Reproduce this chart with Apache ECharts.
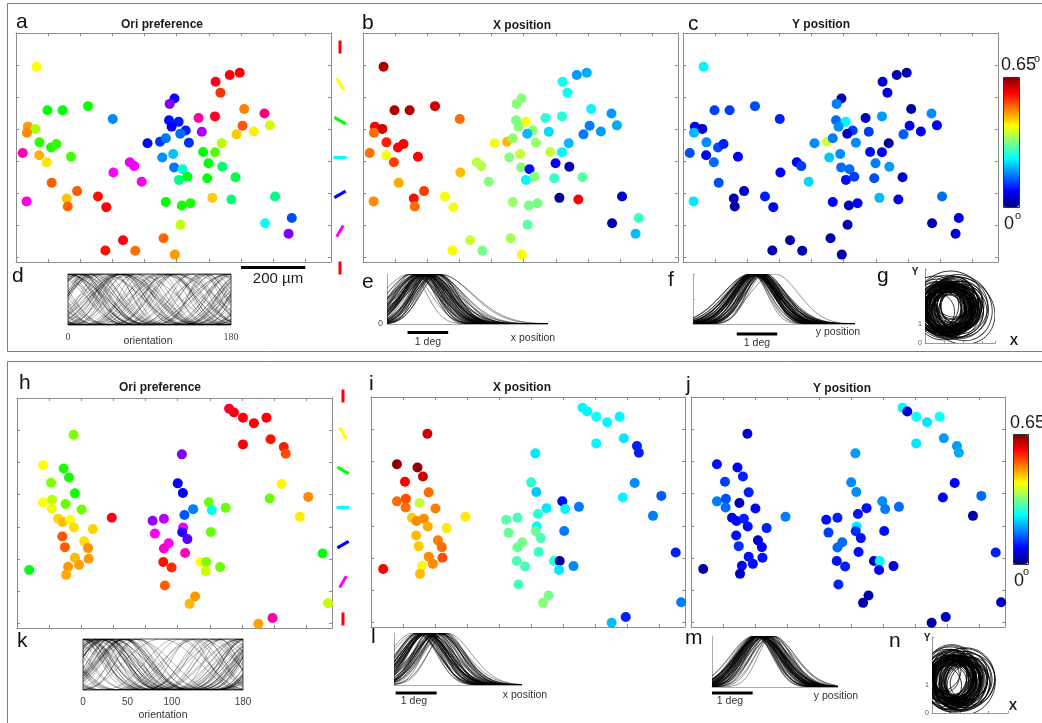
<!DOCTYPE html>
<html>
<head>
<meta charset="utf-8">
<script src="https://cdn.jsdelivr.net/npm/echarts@6/dist/echarts.min.js"></script>
<style>
  html, body { margin: 0; padding: 0; background: #ffffff; }
  #chart { width: 1042px; height: 723px; }
</style>
</head>
<body>
<div id="chart"></div>
<script>
// ---------------- cell data, first field (panels a-g) ----------------
// soma position in the imaging field, µm from the left / top edge
const topX = [64,665,696,621,636,493,478,98,145,224, 301,710,568,619,773,476,506,484,37,60,
  34,705,790,740,686,578,528,511,73,109, 126,409,448,466,538,640,21,72,96,171,
  455,489,582,619,599,642,354,368,303,391, 492,518,507,533,595,683,111,190,255,281,
  158,161,33,466,516,543,611,670,806,512, 775,858,848,333,278,371,459,494];
const topY = [105,131,124,152,186,204,221,241,241,228, 268,237,265,260,251,272,277,292,292,299,
  311,289,288,307,316,308,304,314,341,357, 346,344,339,328,342,344,374,381,403,386,
  388,377,371,372,406,417,403,415,435,464, 419,425,458,448,453,450,467,493,510,543,
  516,541,525,527,538,531,514,519,510,598, 593,577,626,646,678,679,640,691];
// preferred orientation (deg)
const topOri = [30,178,179,177,6,122,135,60,60,58, 104,15,162,176,165,118,117,121,18,40,
  16,10,35,28,24,140,116,107,55,57, 54,119,114,106,115,39,160,21,27,52,
  103,97,60,50,61,73,148,149,150,152, 106,84,75,63,62,68,11,11,2,179,
  23,12,154,60,58,57,24,75,75,37, 89,111,135,178,2,13,12,18];
// receptive-field centre, x and y (deg)
const topXPos = [0.62,0.18,0.19,0.25,0.25,0.33,0.33,0.62,0.62,0.60, 0.50,0.24,0.27,0.27,0.18,0.32,0.40,0.33,0.57,0.60,
  0.50,0.16,0.19,0.18,0.16,0.22,0.33,0.20,0.55,0.57, 0.57,0.40,0.45,0.34,0.34,0.20,0.50,0.40,0.53,0.57,
  0.33,0.37,0.37,0.24,0.08,0.03,0.36,0.36,0.45,0.33, 0.33,0.09,0.24,0.33,0.28,0.30,0.46,0.53,0.40,0.40,
  0.56,0.50,0.48,0.34,0.32,0.32,0.02,0.57,0.05,0.30, 0.03,0.28,0.20,0.37,0.41,0.32,0.35,0.41];
const topYPos = [0.24,0.03,0.03,0.05,0.07,0.03,0.16,0.12,0.12,0.13, 0.10,0.03,0.04,0.18,0.17,0.15,0.24,0.17,0.08,0.05,
  0.20,0.08,0.08,0.07,0.14,0.12,0.12,0.05,0.17,0.13, 0.10,0.17,0.38,0.16,0.17,0.02,0.13,0.08,0.15,0.08,
  0.21,0.17,0.09,0.08,0.16,0.18,0.08,0.12,0.08,0.22, 0.15,0.15,0.09,0.12,0.13,0.05,0.13,0.04,0.10,0.08,
  0.03,0.03,0.23,0.08,0.04,0.08,0.20,0.07,0.15,0.03, 0.03,0.07,0.05,0.02,0.03,0.03,0.03,0.03];
// tuning sharpness (orientation exponent) and spatial widths (deg)
const topOriPow = [2.0,1.0,3.0,1.5,4.0,1.0,2.5,3.0,1.2,2.0, 5.0,2.0,0.8,3.0,1.5,4.0,1.0,2.0,6.0,3.0,
  2.0,1.0,3.5,2.0,4.0,1.5,0.8,3.0,2.0,5.0, 1.0,2.0,3.0,1.5,4.0,1.0,3.0,2.0,2.5,5.0,
  1.0,3.0,2.0,4.0,1.5,0.7,3.0,2.0,6.0,2.0, 1.0,3.0,2.5,4.0,1.0,2.0,3.0,5.0,2.0,1.2,
  3.0,2.0,4.0,1.5,1.0,3.0,2.0,5.0,2.0,0.9, 3.0,2.0,4.0,1.0,2.5,3.0,2.0,4.5];
const topXSig = [0.45,0.60,0.40,0.70,0.50,0.35,0.55,0.80,0.45,0.60, 0.40,0.65,0.50,0.75,0.45,0.55,0.35,0.60,0.50,0.85,
  0.45,0.55,0.40,0.65,0.50,0.60,0.45,0.70,0.40,0.55, 0.50,0.65,0.45,0.60,0.30,0.55,0.75,0.45,0.50,0.60,
  0.40,0.70,0.55,0.45,0.65,0.50,0.35,0.60,0.45,0.80, 0.50,0.55,0.40,0.65,0.45,0.60,0.50,0.70,0.40,0.55,
  0.45,0.65,0.50,0.60,0.35,0.55,0.70,0.45,0.60,0.50, 0.40,0.65,0.55,0.45,0.60,0.50,0.70,0.45];
const topYSig = [0.50,0.45,0.60,0.40,0.55,0.65,0.45,0.50,0.70,0.40, 0.55,0.45,0.60,0.50,0.35,0.65,0.50,0.45,0.55,0.60,
  0.40,0.70,0.50,0.45,0.60,0.55,0.40,0.50,0.65,0.45, 0.55,0.50,0.60,0.35,0.45,0.70,0.50,0.55,0.40,0.60,
  0.45,0.50,0.65,0.55,0.40,0.60,0.50,0.45,0.70,0.55, 0.40,0.60,0.50,0.45,0.65,0.35,0.55,0.50,0.60,0.45,
  0.50,0.70,0.40,0.55,0.60,0.45,0.50,0.65,0.40,0.55, 0.60,0.45,0.50,0.70,0.40,0.55,0.50,0.60];
// receptive-field outline radii (inset units)
const topRfRx = [0.9,1.1,0.8,1.3,1.0,0.7,1.2,1.5,0.9,1.0, 0.8,1.2,1.0,1.4,0.9,1.1,0.7,1.0,1.3,1.6,
  0.9,1.0,0.8,1.2,1.0,1.1,0.9,1.3,0.8,1.0, 1.0,1.2,0.9,1.1,0.6,1.0,1.4,0.9,1.0,1.1,
  0.8,1.3,1.0,0.9,1.2,1.0,0.7,1.1,0.9,1.5, 1.0,1.0,0.8,1.2,0.9,1.1,1.0,1.3,0.8,1.0,
  0.9,1.2,1.0,1.1,0.7,1.0,1.3,0.9,1.1,1.0, 0.8,1.2,1.0,0.9,1.1,1.0,1.3,0.9];
const topRfRy = [1.1,1.2,1.0,1.4,1.1,0.9,1.3,1.5,1.0,1.2, 1.0,1.3,1.1,1.5,1.0,1.2,0.9,1.1,1.4,1.6,
  1.0,1.2,0.9,1.3,1.1,1.2,1.0,1.4,0.9,1.1, 1.1,1.3,1.0,1.2,0.8,1.1,1.5,1.0,1.1,1.2,
  0.9,1.4,1.1,1.0,1.3,1.1,0.9,1.2,1.0,1.6, 1.1,1.1,0.9,1.3,1.0,1.2,1.1,1.4,0.9,1.1,
  1.0,1.3,1.1,1.2,0.9,1.1,1.4,1.0,1.2,1.1, 0.9,1.3,1.1,1.0,1.2,1.1,1.4,1.0];

// ---------------- cell data, second field (panels h-n) ----------------
const botX = [176,81,145,162,106,180,81,109,108,151, 201,128,142,165,177,236,141,149,209,221,
  180,223,193,159,153,38,295,660,675,703, 737,776,703,789,830,836,513,500,516,548,
  521,597,606,649,422,457,429,517,514,530, 472,457,523,603,455,481,460,571,589,587,
  632,554,537,751,795,823,786,906,880,951, 968];
const botY = [114,209,219,247,263,296,324,316,343,329, 346,375,385,378,402,407,430,463,445,466,
  496,499,518,524,549,534,372,33,45,61, 78,61,144,128,152,173,175,265,295,345,
  363,324,348,341,381,375,421,402,417,438, 451,467,481,416,509,526,582,509,509,537,
  525,616,639,701,683,267,312,307,369,483, 637];
const botOri = [45,30,57,58,45,58,30,38,32,48, 47,25,22,30,26,25,10,11,26,17,
  22,18,19,18,20,62,177,175,178,178, 179,179,179,2,3,9,135,121,120,105,
  110,47,88,47,137,142,150,148,125,130, 152,155,158,48,2,5,11,30,45,36,
  47,18,22,19,160,29,48,16,28,62, 37];
const botXPos = [0.60,0.64,0.64,0.60,0.57,0.50,0.50,0.52,0.50,0.37, 0.49,0.44,0.48,0.48,0.46,0.42,0.45,0.44,0.49,0.50,
  0.48,0.52,0.48,0.41,0.45,0.57,0.42,0.24,0.24,0.25, 0.24,0.24,0.24,0.23,0.10,0.10,0.23,0.27,0.21,0.23,
  0.27,0.09,0.24,0.16,0.30,0.29,0.31,0.24,0.31,0.29, 0.32,0.31,0.28,0.16,0.29,0.29,0.29,0.27,0.02,0.23,
  0.17,0.32,0.33,0.20,0.10,0.17,0.24,0.14,0.16,0.10, 0.16];
const botYPos = [0.05,0.09,0.08,0.10,0.12,0.10,0.16,0.13,0.15,0.03, 0.08,0.08,0.08,0.10,0.09,0.10,0.09,0.11,0.05,0.08,
  0.09,0.09,0.09,0.08,0.05,0.03,0.16,0.24,0.05,0.25, 0.23,0.25,0.23,0.18,0.18,0.19,0.18,0.17,0.17,0.09,
  0.09,0.17,0.16,0.15,0.09,0.10,0.12,0.23,0.11,0.09, 0.15,0.15,0.09,0.09,0.09,0.10,0.10,0.04,0.24,0.08,
  0.07,0.03,0.03,0.02,0.04,0.08,0.08,0.15,0.03,0.10, 0.04];
const botOriPow = [2.0,3.0,1.5,4.0,2.0,1.0,3.0,2.5,1.2,5.0, 2.0,3.0,1.0,4.0,2.0,1.5,3.0,6.0,2.0,1.0,
  3.0,2.0,4.0,1.5,2.5,3.0,1.0,2.0,3.0,1.5, 4.0,2.0,1.0,3.0,2.0,1.2,3.0,2.0,4.0,1.5,
  2.0,3.0,1.0,2.5,4.0,2.0,1.5,3.0,2.0,1.0, 3.0,5.0,2.0,1.5,3.0,2.0,4.0,1.0,2.5,3.0,
  2.0,1.5,3.0,2.0,1.0,4.0,2.0,3.0,1.5,2.0, 3.0];
const botXSig = [0.50,0.45,0.60,0.40,0.55,0.65,0.45,0.50,0.60,0.40, 0.55,0.45,0.50,0.60,0.35,0.55,0.50,0.45,0.55,0.60,
  0.40,0.50,0.55,0.45,0.60,0.50,0.40,0.55,0.60,0.45, 0.50,0.55,0.60,0.40,0.45,0.65,0.50,0.55,0.40,0.60,
  0.45,0.50,0.55,0.60,0.40,0.50,0.55,0.45,0.60,0.50, 0.40,0.55,0.50,0.45,0.65,0.35,0.55,0.50,0.60,0.45,
  0.50,0.60,0.40,0.55,0.50,0.45,0.55,0.60,0.40,0.50, 0.55];
const botYSig = [0.45,0.55,0.50,0.60,0.40,0.50,0.55,0.45,0.60,0.50, 0.40,0.55,0.60,0.45,0.50,0.55,0.35,0.60,0.50,0.45,
  0.55,0.60,0.40,0.50,0.55,0.45,0.60,0.50,0.40,0.55, 0.50,0.45,0.60,0.55,0.40,0.50,0.65,0.45,0.55,0.50,
  0.60,0.40,0.50,0.55,0.45,0.60,0.50,0.40,0.55,0.60, 0.45,0.50,0.55,0.40,0.60,0.50,0.45,0.55,0.35,0.60,
  0.50,0.45,0.55,0.60,0.40,0.50,0.55,0.45,0.60,0.50, 0.45];
const botRfRx = [0.5,0.6,0.45,0.7,0.55,0.4,0.65,0.8,0.5,0.6, 0.45,0.7,0.55,0.75,0.5,0.6,0.4,0.55,0.7,0.85,
  0.5,0.6,0.45,0.65,0.55,0.6,0.5,0.7,0.45,0.55, 0.55,0.65,0.5,0.6,0.35,0.55,0.75,0.5,0.55,0.6,
  0.45,0.7,0.55,0.5,0.65,0.55,0.4,0.6,0.5,0.8, 0.55,0.55,0.45,0.65,0.5,0.6,0.55,0.7,0.45,0.55,
  0.5,0.65,0.55,0.6,0.4,0.55,0.7,0.5,0.6,0.55, 0.45];
const botRfRy = [0.6,0.7,0.55,0.8,0.65,0.5,0.75,0.9,0.6,0.7, 0.55,0.8,0.65,0.85,0.6,0.7,0.5,0.65,0.8,0.95,
  0.6,0.7,0.55,0.75,0.65,0.7,0.6,0.8,0.55,0.65, 0.65,0.75,0.6,0.7,0.45,0.65,0.85,0.6,0.65,0.7,
  0.55,0.8,0.65,0.6,0.75,0.65,0.5,0.7,0.6,0.9, 0.65,0.65,0.55,0.75,0.6,0.7,0.65,0.8,0.55,0.65,
  0.6,0.75,0.65,0.7,0.5,0.65,0.8,0.6,0.7,0.65, 0.55];

// orientation key, scale bars
const oriKeyTicks = [0, 30, 60, 90, 120, 150, 180];
const scaleBarUm = [700, 900];
const degBarE = [0.51, 1.52];
const degBarF = [1.08, 2.08];
const degBarL = [0.04, 1.04];
const degBarM = [0.0, 1.0];
const colourRange = [0, 0.65];

// ---------------- styling ----------------
const FONT = 'Liberation Sans, Arial, Helvetica, sans-serif';
const AXIS_GRAY = '#8c8c8c';
const HSV = ['#ff0000', '#ffff00', '#00ff00', '#00ffff', '#0000ff', '#ff00ff', '#ff0000'];
const JET = ['#000080', '#0000ff', '#0080ff', '#00ffff', '#80ff80', '#ffff00', '#ff8000', '#ff0000', '#800000'];
const FIELD_W = 980, FIELD_H = 714;

const grids = [], xAxes = [], yAxes = [], series = [], visualMaps = [], graphics = [];

function addGrid(l, t, w, h, extra) {
  grids.push(Object.assign({ left: l, top: t, width: w, height: h, outerBoundsMode: 'none', containLabel: false }, extra || {}));
  return grids.length - 1;
}
function addAxes(gi, xo, yo) {
  const xi = xAxes.length;
  xAxes.push(Object.assign({ gridIndex: gi, type: 'value', splitLine: { show: false } }, xo));
  const yi = yAxes.length;
  yAxes.push(Object.assign({ gridIndex: gi, type: 'value', splitLine: { show: false } }, yo));
  return { xi, yi };
}

// map panel: boxed field with inward ticks every 100 µm
function mapPanel(l, t, w, h) {
  const gi = addGrid(l, t, w, h);
  const common = {
    axisLabel: { show: false }, splitLine: { show: false },
    axisLine: { show: true, onZero: false, lineStyle: { color: AXIS_GRAY, width: 1 } },
    axisTick: { show: true, inside: true, length: 3, lineStyle: { color: AXIS_GRAY } }
  };
  const xi = xAxes.length;
  xAxes.push(Object.assign({ gridIndex: gi, type: 'value', min: 0, max: FIELD_W, interval: 100, position: 'bottom' }, common));
  xAxes.push(Object.assign({ gridIndex: gi, type: 'value', min: 0, max: FIELD_W, interval: 100, position: 'top' }, common));
  const yi = yAxes.length;
  yAxes.push(Object.assign({ gridIndex: gi, type: 'value', min: 0, max: FIELD_H, interval: 100, inverse: true, position: 'left' }, common));
  yAxes.push(Object.assign({ gridIndex: gi, type: 'value', min: 0, max: FIELD_H, interval: 100, inverse: true, position: 'right' }, common));
  return { xi, yi };
}

function cellScatter(ax, xs, ys, vals) {
  series.push({
    type: 'scatter', xAxisIndex: ax.xi, yAxisIndex: ax.yi, clip: false,
    data: xs.map((x, i) => [x, ys[i], vals[i]]),
    symbolSize: 10, itemStyle: { opacity: 1 }, silent: true, animation: false, z: 3
  });
  return series.length - 1;
}

function colourMap(sIdx, dim, min, max, colors, extra) {
  visualMaps.push(Object.assign({
    type: 'continuous', seriesIndex: sIdx, dimension: dim, min: min, max: max,
    inRange: { color: colors }, show: false
  }, extra || {}));
}

// short oriented bars showing the orientation colour code
function oriKey(l, t, w, h) {
  const gi = addGrid(l, t, w, h);
  const ax = addAxes(gi, { min: 0, max: 1, show: false }, { min: 0, max: 180, inverse: true, show: false });
  series.push({
    type: 'custom', xAxisIndex: ax.xi, yAxisIndex: ax.yi, silent: true, animation: false,
    data: oriKeyTicks.map(o => [0.5, o]),
    renderItem(params, api) {
      const o = api.value(1);
      const c = api.coord([0.5, o]);
      const r = o * Math.PI / 180, L = 6.5;
      const dx = Math.sin(r) * L, dy = Math.cos(r) * L;
      return { type: 'line', shape: { x1: c[0] - dx, y1: c[1] - dy, x2: c[0] + dx, y2: c[1] + dy },
               style: { stroke: api.visual('color'), lineWidth: 3 } };
    }
  });
  return series.length - 1;
}

// tuning-curve families
const oriTuning = (x, c, p) => Math.pow((1 + Math.cos(2 * (x - c) * Math.PI / 180)) / 2, p);
const gaussTuning = (x, c, s) => Math.exp(-(x - c) * (x - c) / (2 * s * s));

function curves(ax, centres, widths, shape, xMax, step, stroke) {
  series.push({
    type: 'custom', xAxisIndex: ax.xi, yAxisIndex: ax.yi, silent: true, animation: false, clip: true,
    data: centres.map((c, i) => [c, widths[i]]),
    renderItem(params, api) {
      const c = api.value(0), w = api.value(1);
      const pts = [];
      for (let x = 0; x <= xMax + 1e-9; x += step) pts.push(api.coord([x, shape(x, c, w)]));
      return { type: 'polyline', shape: { points: pts },
               style: { stroke: stroke, lineWidth: 0.7, fill: 'none' } };
    }
  });
}

// receptive-field outlines, tilted along each cell's preferred orientation
function rfLoops(ax, cx, cy, rx, ry, tilt) {
  series.push({
    type: 'custom', xAxisIndex: ax.xi, yAxisIndex: ax.yi, silent: true, animation: false, clip: true,
    data: cx.map((c, i) => [c, cy[i], rx[i], ry[i], tilt[i]]),
    renderItem(params, api) {
      const c = api.coord([api.value(0), api.value(1)]);
      const s = api.size([api.value(2), api.value(3)]);
      return { type: 'ellipse', x: c[0], y: c[1], rotation: -api.value(4) * Math.PI / 180,
               shape: { cx: 0, cy: 0, rx: s[0], ry: s[1] },
               style: { stroke: 'rgba(0,0,0,0.8)', lineWidth: 0.9, fill: 'none' } };
    }
  });
}

function scaleBar(ax, ends, yVal) {
  series.push({
    type: 'line', xAxisIndex: ax.xi, yAxisIndex: ax.yi, clip: false, silent: true, animation: false,
    symbol: 'none', data: [[ends[0], yVal], [ends[1], yVal]],
    lineStyle: { color: '#000', width: 3 }
  });
}

// inset axis styles
const boxAxis = (extra) => Object.assign({ axisLine: { show: false }, axisTick: { show: false }, axisLabel: { show: false } }, extra);
const lAxis = (extra) => Object.assign({
  axisLine: { show: true, onZero: false, lineStyle: { color: '#aaaaaa', width: 1 } },
  axisTick: { show: false }, axisLabel: { show: false }
}, extra);

function text(x, y, str, size, extra) {
  graphics.push({
    type: 'text', x: x, y: y, silent: true, z: 10,
    style: Object.assign({ text: str, fontSize: size, fontFamily: FONT, fill: '#1a1a1a',
      align: 'left', textAlign: 'left', verticalAlign: 'middle', textVerticalAlign: 'middle' }, extra || {})
  });
}
const centred = { align: 'center', textAlign: 'center' };
const boldC = { align: 'center', textAlign: 'center', fontWeight: 'bold' };

// ---------------- first field ----------------
const axA = mapPanel(16, 33, 315, 229);
const axB = mapPanel(363, 33, 315, 229);
const axC = mapPanel(683, 33, 315, 229);
const sA = cellScatter(axA, topX, topY, topOri);
const sB = cellScatter(axB, topX, topY, topXPos);
const sC = cellScatter(axC, topX, topY, topYPos);
colourMap(sA, 2, 0, 180, HSV);
colourMap(sB, 2, colourRange[0], colourRange[1], JET);
colourMap(sC, 2, colourRange[0], colourRange[1], JET, {
  show: true, left: 1003, top: 77, itemWidth: 16, itemHeight: 130, padding: 0,
  calculable: false, hoverLink: false, text: null, orient: 'vertical'
});
scaleBar(axA, scaleBarUm, 731);

// ---------------- second field ----------------
const axH = mapPanel(17, 398, 315, 230);
const axI = mapPanel(371, 397, 314, 230);
const axJ = mapPanel(691, 397, 314, 230);
const sH = cellScatter(axH, botX, botY, botOri);
const sI = cellScatter(axI, botX, botY, botXPos);
const sJ = cellScatter(axJ, botX, botY, botYPos);
colourMap(sH, 2, 0, 180, HSV);
colourMap(sI, 2, colourRange[0], colourRange[1], JET);
colourMap(sJ, 2, colourRange[0], colourRange[1], JET, {
  show: true, left: 1013, top: 434, itemWidth: 15, itemHeight: 130, padding: 0,
  calculable: false, hoverLink: false, text: null, orient: 'vertical'
});

// orientation keys
const k1 = oriKey(333, 47, 14, 221);
const k2 = oriKey(336, 396, 14, 223);
colourMap([k1, k2], 1, 0, 180, HSV);

// ---------------- tuning-curve insets ----------------
const boxGrid = { show: true, borderColor: '#4d4d4d', borderWidth: 1, backgroundColor: 'transparent' };
const ORI_STROKE = 'rgba(0,0,0,0.42)';
const POS_STROKE = 'rgba(0,0,0,0.6)';
// d
const gD = addGrid(68, 274, 163, 51, boxGrid);
const axD = addAxes(gD,
  boxAxis({ min: 0, max: 180, interval: 10, axisLabel: { show: true, margin: 7, fontSize: 10, color: '#444',
    fontFamily: 'Liberation Serif, Times New Roman, serif', formatter: v => (v === 0 || v === 180) ? String(v) : '' } }),
  boxAxis({ min: 0, max: 1 }));
curves(axD, topOri, topOriPow, oriTuning, 180, 2, ORI_STROKE);
// e
const gE = addGrid(387, 274, 161, 50);
const axE = addAxes(gE, lAxis({ min: 0, max: 4 }),
  lAxis({ min: 0, max: 1, interval: 1, axisLabel: { show: true, margin: 4, fontSize: 9, color: '#555', fontFamily: FONT,
    formatter: v => v === 0 ? '0' : '' } }));
curves(axE, topXPos.map(v => 0.55 + v * 1.2), topXSig, gaussTuning, 4, 0.04, POS_STROKE);
scaleBar(axE, degBarE, -0.17);
// f
const gF = addGrid(693, 274, 162, 50);
const axF = addAxes(gF, lAxis({ min: 0, max: 4 }),
  lAxis({ min: 0, max: 1, interval: 0.5, axisTick: { show: true, inside: true, length: 2, lineStyle: { color: '#aaa' } } }));
curves(axF, topYPos.map(v => 1.4 + v * 1.6), topYSig, gaussTuning, 4, 0.04, POS_STROKE);
scaleBar(axF, degBarF, -0.2);
// g
const rfAxisX = (max) => ({ min: 0, max: max, interval: 1,
  axisLine: { show: true, onZero: false, lineStyle: { color: '#999', width: 1 } },
  axisTick: { show: true, inside: true, length: 2, lineStyle: { color: '#999' } }, axisLabel: { show: false } });
const rfAxisY = (max) => ({ min: 0, max: max, interval: 1,
  axisLine: { show: true, onZero: false, lineStyle: { color: '#999', width: 1 } },
  axisTick: { show: true, inside: true, length: 2, lineStyle: { color: '#999' } },
  axisLabel: { show: true, margin: 3, fontSize: 7, color: '#555', fontFamily: FONT, formatter: v => v <= 1 ? String(v) : '' } });
const gG = addGrid(925, 269, 70, 74);
const axG = addAxes(gG, rfAxisX(3.7), rfAxisY(3.9));
rfLoops(axG, topXPos.map(v => 0.55 + v * 2.2), topYPos.map(v => 1.6 + v * 2.2),
  topRfRx.map(r => r * 1.2), topRfRy.map(r => r * 1.05), topOri);

// k
const gK = addGrid(83, 639, 160, 51, boxGrid);
const axK = addAxes(gK,
  boxAxis({ min: 0, max: 180, interval: 10, axisLabel: { show: true, margin: 7, fontSize: 10, color: '#444', fontFamily: FONT,
    formatter: v => [0, 50, 100, 180].indexOf(v) >= 0 ? String(v) : '' } }),
  boxAxis({ min: 0, max: 1 }));
curves(axK, botOri, botOriPow, oriTuning, 180, 2, ORI_STROKE);
// l
const gL = addGrid(394, 633, 128, 52);
const axL = addAxes(gL, lAxis({ min: 0, max: 3.12 }), lAxis({ min: 0, max: 1 }));
curves(axL, botXPos.map(v => 0.45 + v * 1.3), botXSig, gaussTuning, 3.12, 0.03, POS_STROKE);
scaleBar(axL, degBarL, -0.154);
// m
const gM = addGrid(712, 636, 126, 51);
const axM = addAxes(gM, lAxis({ min: 0, max: 3.1 }), lAxis({ min: 0, max: 1 }));
curves(axM, botYPos.map(v => 1.0 + v * 2.0), botYSig, gaussTuning, 3.1, 0.03, POS_STROKE);
scaleBar(axM, degBarM, -0.118);
// n
const gN = addGrid(932, 637, 76, 76);
const axN = addAxes(gN, rfAxisX(2.7), rfAxisY(2.7));
rfLoops(axN, botXPos.map(v => 0.35 + v * 1.5), botYPos.map(v => 0.95 + v * 2.0),
  botRfRx.map(r => r * 1.35), botRfRy.map(r => r * 1.25), botOri);

// ---------------- frames and text ----------------
graphics.push({ type: 'rect', silent: true, z: -1, shape: { x: 7.5, y: 3.5, width: 1040, height: 348 },
  style: { fill: 'none', stroke: '#7f7f7f', lineWidth: 1 } });
graphics.push({ type: 'rect', silent: true, z: -1, shape: { x: 7.5, y: 361.5, width: 1040, height: 380 },
  style: { fill: 'none', stroke: '#7f7f7f', lineWidth: 1 } });

// panel titles
text(162, 25, 'Ori preference', 12, boldC);
text(522, 26, 'X position', 12, boldC);
text(821, 25, 'Y position', 12, boldC);
text(160, 388, 'Ori preference', 12, boldC);
text(522, 388, 'X position', 12, boldC);
text(842, 389, 'Y position', 12, boldC);

// panel letters
[['a', 16, 22], ['b', 362, 23], ['c', 688, 24], ['d', 12, 276], ['e', 362, 282], ['f', 668, 280], ['g', 877, 276],
 ['h', 19, 383], ['i', 369, 384], ['j', 686, 385], ['k', 17, 641], ['l', 371, 637], ['m', 685, 638], ['n', 889, 641]]
  .forEach(([s, x, y]) => text(x, y, s, 21, { fill: '#111' }));

// field scale bar label
text(278, 279, '200 \u00b5m', 15, centred);

// inset labels
text(148, 341, 'orientation', 10.5, Object.assign({ fill: '#333' }, centred));
text(428, 342, '1 deg', 10.5, Object.assign({ fill: '#333' }, centred));
text(533, 338, 'x position', 10.5, Object.assign({ fill: '#333' }, centred));
text(757, 343, '1 deg', 10.5, Object.assign({ fill: '#333' }, centred));
text(838, 332, 'y position', 10.5, Object.assign({ fill: '#333' }, centred));
text(915, 272, 'Y', 10, boldC);
text(1014, 342, 'X', 12.5, boldC);
text(163, 715, 'orientation', 10.5, Object.assign({ fill: '#333' }, centred));
text(414, 701, '1 deg', 10.5, Object.assign({ fill: '#333' }, centred));
text(525, 695, 'x position', 10.5, Object.assign({ fill: '#333' }, centred));
text(730, 701, '1 deg', 10.5, Object.assign({ fill: '#333' }, centred));
text(836, 696, 'y position', 10.5, Object.assign({ fill: '#333' }, centred));
text(927, 638, 'Y', 10, boldC);
text(1013, 707, 'X', 12.5, boldC);

// colour-bar end labels
text(1001, 65, String(colourRange[1]), 18);
text(1034, 59, 'o', 11);
text(1004, 224, String(colourRange[0]), 18);
text(1015, 216, 'o', 11);
text(1010, 423, String(colourRange[1]), 18);
text(1014, 581, String(colourRange[0]), 18);
text(1023, 572, 'o', 11);

// colour-bar outlines
graphics.push({ type: 'rect', silent: true, z: 20, shape: { x: 1003.5, y: 77.5, width: 16, height: 130 },
  style: { fill: 'none', stroke: '#333', lineWidth: 1 } });
graphics.push({ type: 'rect', silent: true, z: 20, shape: { x: 1013.5, y: 434.5, width: 15, height: 130 },
  style: { fill: 'none', stroke: '#333', lineWidth: 1 } });

const chart = echarts.init(document.getElementById('chart'), null, { renderer: 'canvas' });
chart.setOption({
  animation: false,
  backgroundColor: '#ffffff',
  textStyle: { fontFamily: FONT },
  grid: grids,
  xAxis: xAxes,
  yAxis: yAxes,
  visualMap: visualMaps,
  series: series,
  graphic: { elements: graphics }
});
</script>
</body>
</html>
